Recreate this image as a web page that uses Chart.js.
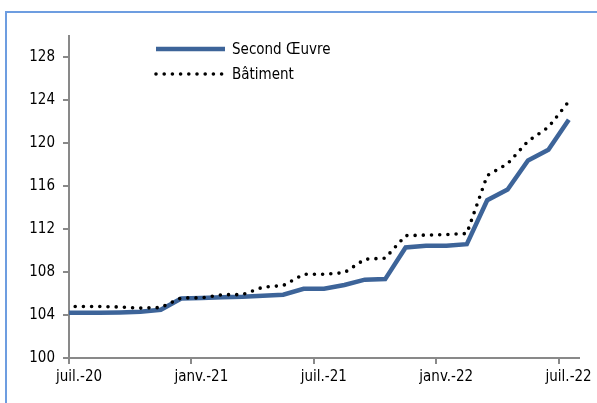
<!DOCTYPE html>
<html>
<head>
<meta charset="utf-8">
<script src="https://cdn.jsdelivr.net/npm/chart.js@4"></script>
<style>
  body { margin: 0; background: #fff; }
  #wrap { position: relative; width: 597px; height: 403px; overflow: hidden; }
  .frame { position: absolute; left: 5px; top: 11px; right: -4px; bottom: -4px;
           border-top: 2px solid #6d9de0; border-left: 2px solid #6d9de0; }
  canvas { position: absolute; left: 0; top: 0; }
</style>
</head>
<body>
<div id="wrap">
  <div class="frame"></div>
  <canvas id="chart" width="597" height="403"></canvas>
</div>
<script>
// mois (juin-20 sert seulement à prolonger la courbe jusqu'à l'axe)
const months = ['juin-20', 'juil.-20', 'août-20', 'sept.-20', 'oct.-20', 'nov.-20', 'déc.-20',
  'janv.-21', 'févr.-21', 'mars-21', 'avr.-21', 'mai-21', 'juin-21',
  'juil.-21', 'août-21', 'sept.-21', 'oct.-21', 'nov.-21', 'déc.-21',
  'janv.-22', 'févr.-22', 'mars-22', 'avr.-22', 'mai-22', 'juin-22', 'juil.-22'];

const secondOeuvre = [104.2, 104.22, 104.22, 104.25, 104.3, 104.5, 105.55,
  105.6, 105.65, 105.7, 105.8, 105.9, 106.45,
  106.45, 106.8, 107.3, 107.35, 110.3, 110.45,
  110.45, 110.6, 114.7, 115.7, 118.4, 119.4, 122.2];

const batiment = [104.8, 104.8, 104.8, 104.75, 104.65, 104.7, 105.6,
  105.6, 105.9, 105.9, 106.6, 106.75, 107.8,
  107.8, 107.95, 109.2, 109.3, 111.4, 111.45,
  111.5, 111.6, 117.0, 118.1, 120.2, 121.5, 123.9];

const seriesNames = ['Second Œuvre', 'Bâtiment'];
const tickLabels = ['juil.-20', 'janv.-21', 'juil.-21', 'janv.-22', 'juil.-22'];

const FONT = "'DejaVu Sans Condensed', 'DejaVu Sans', sans-serif";
const AXIS_GREY = '#898989';

// point au milieu du mois, l'axe commence le 1er juillet 2020
const toPoints = vals => vals.map((v, i) => ({ x: i - 0.5, y: v }));

// légende à gauche dans la zone du graphique
const sideLegend = {
    id: 'sideLegend',
    afterDraw(chart) {
        const ctx = chart.ctx;
        chart.data.datasets.forEach((ds, i) => {
            const y = 49 + i * 25;
            ctx.save();
            ctx.strokeStyle = ds.borderColor;
            ctx.lineWidth = ds.borderWidth;
            ctx.lineCap = ds.borderCapStyle;
            ctx.setLineDash(ds.borderDash || []);
            ctx.beginPath();
            ctx.moveTo(156, y);
            ctx.lineTo(225, y);
            ctx.stroke();
            ctx.setLineDash([]);
            ctx.fillStyle = '#000';
            ctx.font = '15px ' + FONT;
            ctx.textBaseline = 'middle';
            ctx.fillText(ds.label, 232, y + 1);
            ctx.restore();
        });
    }
};

new Chart(document.getElementById('chart'), {
    type: 'line',
    data: {
        datasets: [{
            label: seriesNames[0],
            data: toPoints(secondOeuvre),
            borderColor: '#3d6499',
            borderWidth: 4.5,
            borderCapStyle: 'butt',
            pointRadius: 0,
            tension: 0,
            order: 1
        }, {
            label: seriesNames[1],
            data: toPoints(batiment),
            borderColor: '#000',
            borderWidth: 3.6,
            borderDash: [0, 8.2],
            borderCapStyle: 'round',
            pointRadius: 0,
            tension: 0,
            order: 0
        }]
    },
    options: {
        responsive: false,
        animation: false,
        layout: { padding: { top: 36, right: 18, bottom: 0, left: 0 } },
        plugins: { legend: { display: false }, tooltip: { enabled: false } },
        scales: {
            x: {
                type: 'linear',
                min: 0,
                max: 25,
                afterFit(s) { s.height = 45; },
                border: { color: AXIS_GREY, width: 2 },
                grid: { drawOnChartArea: false, tickLength: 6, color: AXIS_GREY, lineWidth: 2 },
                ticks: {
                    stepSize: 6,
                    includeBounds: false,
                    autoSkip: false,
                    maxRotation: 0,
                    labelOffset: 10,
                    padding: 4,
                    color: '#000',
                    font: { family: FONT, size: 15 },
                    callback: v => tickLabels[v / 6]
                }
            },
            y: {
                min: 100,
                max: 130,
                afterFit(s) { s.width = 69; },
                border: { color: AXIS_GREY, width: 2 },
                grid: { drawOnChartArea: false, tickLength: 6, color: AXIS_GREY, lineWidth: 2 },
                ticks: {
                    stepSize: 4,
                    includeBounds: false,
                    padding: 8,
                    color: '#000',
                    font: { family: FONT, size: 15 }
                }
            }
        }
    },
    plugins: [sideLegend]
});
</script>
</body>
</html>
